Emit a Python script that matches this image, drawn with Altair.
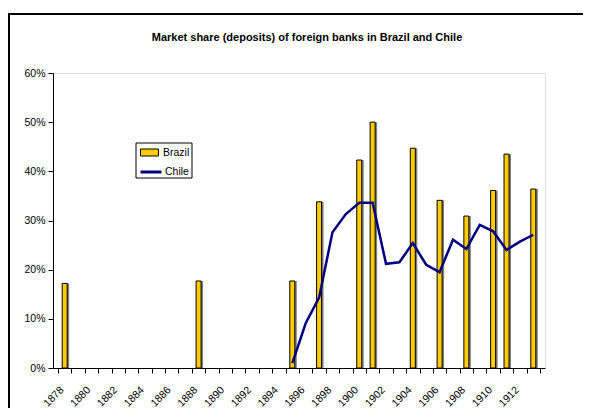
import altair as alt
import pandas as pd

# ---- data ----
brazil_years = [1878, 1888, 1895, 1897, 1900, 1901, 1904, 1906, 1908, 1910, 1911, 1913]
brazil_share = [17.2, 17.7, 17.7, 33.8, 42.3, 50.0, 44.7, 34.1, 30.9, 36.1, 43.5, 36.4]

chile_years = list(range(1895, 1914))
chile_share = [1.0, 9.1, 14.3, 27.6, 31.3, 33.6, 33.6, 21.2, 21.5, 25.4,
               21.0, 19.5, 26.1, 24.2, 29.1, 27.8, 24.0, 25.7, 27.1]

first_year, last_year = 1878, 1913
y_ticks = [0, 0.1, 0.2, 0.3, 0.4, 0.5, 0.6]
title_text = "Market share (deposits) of foreign banks in Brazil and Chile"

brazil_df = pd.DataFrame({"year": brazil_years,
                          "share": [v / 100 for v in brazil_share],
                          "series": "Brazil"})
chile_df = pd.DataFrame({"year": chile_years,
                         "share": [v / 100 for v in chile_share],
                         "series": "Chile"})

# axis values: category boundaries (ticks) and centres (labels)
x_values = [first_year - 0.5 + i * 0.5 for i in range(2 * (last_year - first_year + 1) + 1)]

FONT = "Liberation Sans"
W, H = 492, 295

x_scale = alt.Scale(domain=[first_year - 0.5, last_year + 0.5], nice=False, zero=False)
y_scale = alt.Scale(domain=[0, 0.6], nice=False)

x_axis = alt.Axis(
    values=x_values,
    labelExpr="(datum.value % 1 == 0 && datum.value % 2 == 0) ? '' + datum.value : ''",
    tickOpacity=alt.condition("datum.value % 1 == 0", alt.value(0), alt.value(1)),
    labelAngle=-45, labelAlign="right", labelBaseline="middle",
    labelOverlap=False, labelBound=False, labelFlush=False,
    labelPadding=15, labelOffset=-3, tickSize=5, tickColor="black", domainColor="black",
    labelFont=FONT, labelFontSize=10.5, labelColor="black",
    grid=False, title=None, zindex=1,
)
y_axis = alt.Axis(
    values=y_ticks, format=".0%", tickSize=5, tickColor="black",
    domainColor="black", labelPadding=3, labelFont=FONT, labelFontSize=10.5,
    labelColor="black", grid=False, title=None, zindex=1,
)

frame = alt.Chart(pd.DataFrame({"k": [0]})).mark_rect(
    fillOpacity=0, stroke="black", strokeWidth=2
).encode(x=alt.value(-44), x2=alt.value(620), y=alt.value(-59), y2=alt.value(420))

title = alt.Chart(pd.DataFrame({"t": [title_text]})).mark_text(
    font=FONT, fontSize=11, fontWeight="bold", color="black", align="center", baseline="middle"
).encode(text="t:N", x=alt.value(254), y=alt.value(-35))

shadow = alt.Chart(brazil_df).mark_bar(size=5, color="#808080", xOffset=2).encode(
    x=alt.X("year:Q", scale=x_scale, axis=x_axis),
    y=alt.Y("share:Q", scale=y_scale, axis=y_axis),
)

bars = alt.Chart(brazil_df).mark_bar(size=5, stroke="black", strokeWidth=1).encode(
    x=alt.X("year:Q", scale=x_scale, axis=x_axis),
    y=alt.Y("share:Q", scale=y_scale, axis=y_axis),
    fill=alt.Fill("series:N", scale=alt.Scale(domain=["Brazil"], range=["#FFCC00"]),
                  legend=alt.Legend(orient="none", legendX=87, legendY=70, title=None,
                                    symbolType="M-1,-0.39H1V0.39H-1Z", symbolSize=324,
                                    symbolStrokeColor="black", symbolStrokeWidth=1,
                                    labelFont=FONT, labelFontSize=10.5, labelColor="black",
                                    labelOffset=4, padding=0, rowPadding=0)),
)

line = alt.Chart(chile_df).mark_line(strokeWidth=2.5).encode(
    x=alt.X("year:Q", scale=x_scale, axis=x_axis),
    y=alt.Y("share:Q", scale=y_scale, axis=y_axis),
    stroke=alt.Stroke("series:N", scale=alt.Scale(domain=["Chile"], range=["#000080"]),
                      legend=alt.Legend(orient="none", legendX=86, legendY=87, title=None,
                                        symbolType="stroke", symbolSize=441,
                                        symbolStrokeWidth=3,
                                        labelFont=FONT, labelFontSize=10.5, labelColor="black",
                                        labelOffset=2, padding=0, rowPadding=0)),
)

legend_box = alt.Chart(pd.DataFrame({"k": [0]})).mark_rect(
    fill="white", stroke="black", strokeWidth=1
).encode(x=alt.value(83), x2=alt.value(139), y=alt.value(70), y2=alt.value(105))

chart = alt.layer(frame, title, shadow, bars, line, legend_box).resolve_legend(
    fill="independent", stroke="independent"
).properties(
    width=W, height=H,
    autosize=alt.AutoSizeParams(type="none"),
    padding={"left": 45, "top": 65, "right": 38, "bottom": 40},
).configure_view(
    stroke="#808080", strokeWidth=1
).configure(background="white")

chart.save("out.html", embed_options={"renderer": "svg", "actions": False})
